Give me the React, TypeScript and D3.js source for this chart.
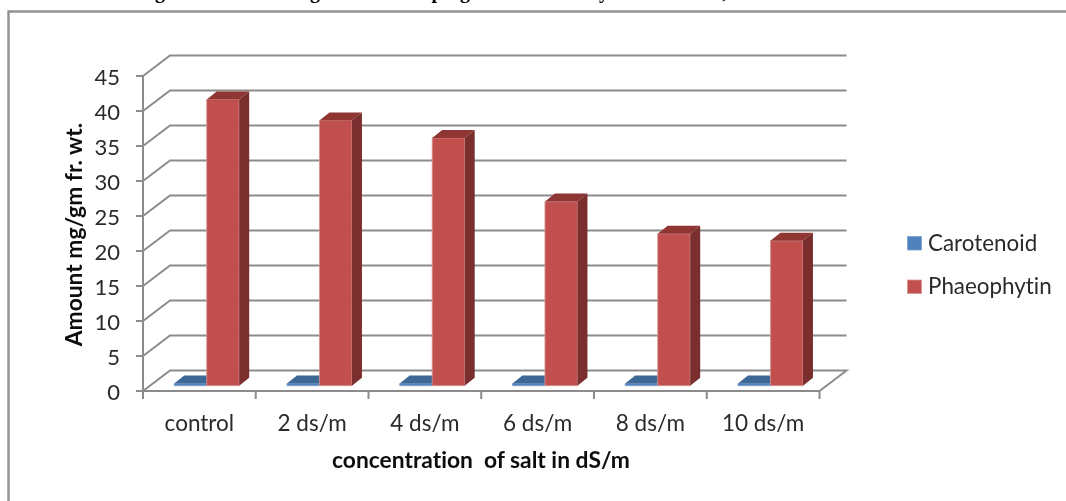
import React from "react";
import * as d3 from "d3";

const categories = ["control", "2 ds/m", "4 ds/m", "6 ds/m", "8 ds/m", "10 ds/m"];
const carotenoid = [0.3, 0.3, 0.3, 0.3, 0.3, 0.3];
const phaeophytin = [40.9, 37.9, 35.4, 26.3, 21.7, 20.7];
const yTicks = [0, 5, 10, 15, 20, 25, 30, 35, 40, 45];
const seriesNames = ["Carotenoid", "Phaeophytin"];
const xTitle = "concentration\u00a0\u00a0of salt in dS/m";
const yTitle = "Amount mg/gm fr. wt.";
// Only the descenders of the cropped heading above the frame are visible.
const clippedGlyphs = [
  { ch: "g", x: 160 },
  { ch: "g", x: 315 },
  { ch: "p", x: 437 },
  { ch: "g", x: 465 },
  { ch: "y", x: 604 },
  { ch: ",", x: 725 },
];

const W = 1066;
const H = 501;
const FONT = "Lato, Carlito, Calibri, sans-serif";
const GRID = "#8c8c8c";
const TEXT = "#2b2b2b";
const NOLIG: React.CSSProperties = { fontVariantLigatures: "none" };

const x = d3.scaleBand<string>().domain(categories).range([143, 819.5]);
const y = d3.scaleLinear().domain([0, 45]).range([391, 76]);
const DX = 27;
const DY = 20.5;

const barW = 32.5;
const barDX = 10;
const barDY = 8;
const baseY = y(0) - 5.3;
const redOff = 63.7;
const blueOff = redOff - barW;

function poly(pts: [number, number][]) {
  const p = d3.path();
  pts.forEach((q, i) => (i ? p.lineTo(q[0], q[1]) : p.moveTo(q[0], q[1])));
  p.closePath();
  return p.toString();
}

function Bar({ left, value, front, top, side, edge }: { left: number; value: number; front: string; top: string; side: string; edge: string }) {
  const h = y(0) - y(value);
  const t = baseY - h;
  const r = left + barW;
  return (
    <g>
      <path d={poly([[left, t], [r, t], [r, baseY], [left, baseY]])} fill={front} stroke={edge} strokeWidth={0.8} />
      <path d={poly([[left, t], [left + barDX, t - barDY], [r + barDX, t - barDY], [r, t]])} fill={top} />
      <path d={poly([[r, t], [r + barDX, t - barDY], [r + barDX, baseY - barDY], [r, baseY]])} fill={side} />
    </g>
  );
}

export default function App() {
  const ticksX = [...categories.map((c) => x(c) as number), 819.5];
  return (
    <svg
      width={W}
      height={H}
      viewBox={`0 0 ${W} ${H}`}
      style={{ position: "absolute", left: 0, top: 0, background: "#fff" }}
    >
      <defs>
        <filter id="soft" x="-2%" y="-2%" width="104%" height="104%">
          <feGaussianBlur stdDeviation="0.35" />
        </filter>
      </defs>
      <g filter="url(#soft)">
        {clippedGlyphs.map((g, i) => (
          <text key={i} x={g.x} y={-2} textAnchor="middle" fontFamily="'Liberation Serif', serif" fontWeight="bold" fontSize={20} fill="#000">
            {g.ch}
          </text>
        ))}
        {/* frame, cropped on the right and at the bottom */}
        <path d={`M8.5,${H} L8.5,11.5 L${W},11.5`} fill="none" stroke="#929292" strokeWidth={2.4} />

        {/* gridlines on side wall and back wall */}
        {yTicks.slice(1).map((t) => (
          <path
            key={t}
            d={`M${x.range()[0]},${y(t)} L${x.range()[0] + DX},${y(t) - DY} L${x.range()[1] + DX},${y(t) - DY}`}
            fill="none"
            stroke={GRID}
            strokeWidth={2}
          />
        ))}
        {/* floor */}
        <path
          d={poly([
            [x.range()[0], y(0)],
            [x.range()[0] + DX, y(0) - DY],
            [x.range()[1] + DX, y(0) - DY],
            [x.range()[1], y(0)],
          ])}
          fill="#fff"
          stroke={GRID}
          strokeWidth={2}
        />
        {/* value axis */}
        <line x1={x.range()[0]} x2={x.range()[0]} y1={y(45)} y2={y(0) + 8} stroke={GRID} strokeWidth={2} />
        {yTicks.map((t) => (
          <g key={t}>
            <line x1={x.range()[0] - 7} x2={x.range()[0]} y1={y(t)} y2={y(t)} stroke={GRID} strokeWidth={2} />
            <text x={120} y={y(t) + 9} textAnchor="end" fontFamily={FONT} fontSize={22} fill={TEXT} style={NOLIG}>
              {t}
            </text>
          </g>
        ))}
        {/* category axis */}
        {ticksX.map((tx, i) => (
          <line key={i} x1={tx} x2={tx} y1={y(0)} y2={y(0) + 8} stroke={GRID} strokeWidth={2} />
        ))}
        {categories.map((c) => (
          <text
            key={c}
            x={(x(c) as number) + x.bandwidth() / 2}
            y={431}
            textAnchor="middle"
            fontFamily={FONT}
            fontSize={22.5}
            fill={TEXT}
            style={NOLIG}
          >
            {c}
          </text>
        ))}

        {/* bars */}
        {categories.map((c, i) => (
          <g key={c}>
            <Bar left={(x(c) as number) + blueOff} value={carotenoid[i]} front="#4f81bd" top="#3d6796" side="#2f4f75" edge="#7ea3d0" />
            <Bar left={(x(c) as number) + redOff} value={phaeophytin[i]} front="#c0504d" top="#8f3533" side="#7a2f2e" edge="#d99795" />
          </g>
        ))}

        {/* titles */}
        <text x={481} y={468} textAnchor="middle" fontFamily={FONT} fontWeight="bold" fontSize={22.8} fill="#111" style={NOLIG}>
          {xTitle}
        </text>
        <text
          transform="translate(82,234.5) rotate(-90)"
          textAnchor="middle"
          fontFamily={FONT}
          fontWeight="bold"
          fontSize={22.8}
          fill="#111"
          style={NOLIG}
        >
          {yTitle}
        </text>

        {/* legend */}
        {seriesNames.map((s, i) => (
          <g key={s} transform={`translate(0,${i * 43.5})`}>
            <rect x={907.5} y={236.5} width={14} height={13.5} fill={i ? "#c0504d" : "#4f81bd"} stroke={i ? "#d99795" : "#7ea3d0"} strokeWidth={0.8} />
            <text x={928} y={250.5} fontFamily={FONT} fontSize={22.4} fill={TEXT} style={NOLIG}>
              {s}
            </text>
          </g>
        ))}
      </g>
    </svg>
  );
}
